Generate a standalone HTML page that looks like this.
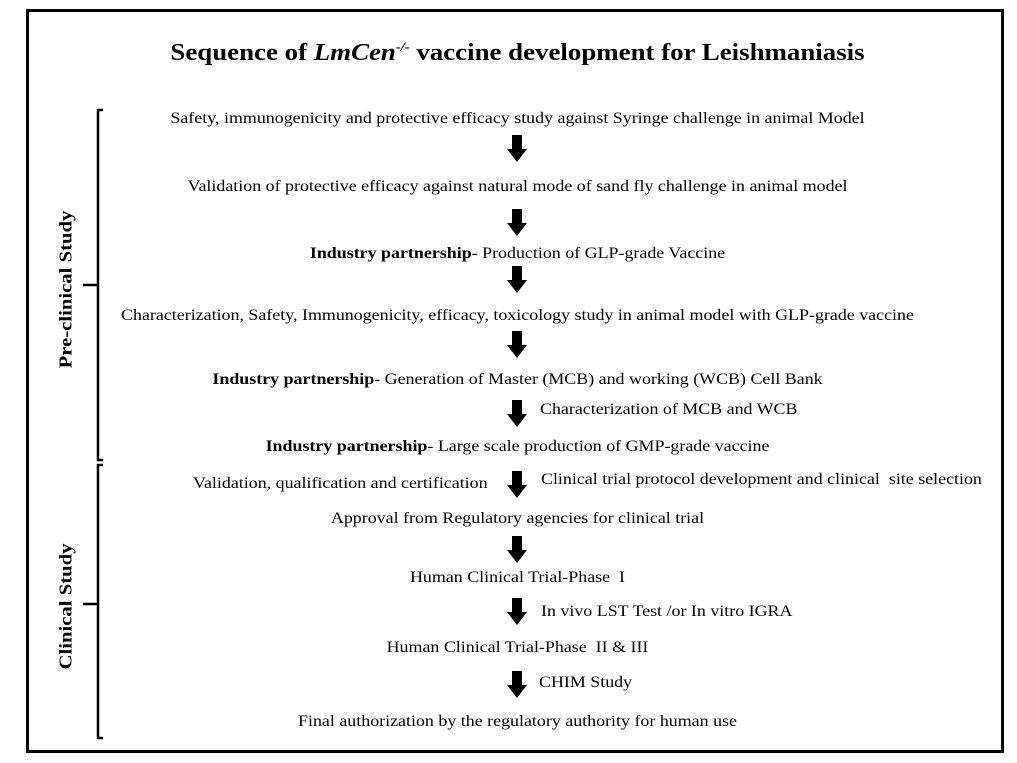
<!DOCTYPE html>
<html><head><style>
body{margin:0;background:#fff;}
#c{position:relative;width:1017px;height:763px;font-family:"Liberation Serif",serif;color:#000;overflow:hidden;}
.t{position:absolute;font-size:16px;line-height:20px;white-space:nowrap;transform:scaleX(1.12);transform-origin:left center;}
.ct{left:9px;width:1017px;text-align:center;transform-origin:center center;}
.v{position:absolute;font-size:18px;font-weight:bold;transform:rotate(-90deg) scaleX(1.15);transform-origin:center;white-space:nowrap;width:300px;text-align:center;}
</style></head><body><div id="c">
<div style="position:absolute;left:26px;top:9px;width:972px;height:738px;border:3px solid #000;"></div>
<div class="t ct" style="top:32px;font-size:24px;line-height:30px;font-weight:bold;">Sequence of <i>LmCen</i><sup style="font-size:13px;font-style:italic;">-/-</sup> vaccine development for Leishmaniasis</div>

<svg style="position:absolute;left:0;top:0" width="1017" height="763">
<g fill="none" stroke="#000" stroke-width="2.5">
<path d="M103 110 H98 V460 H103 M98 285 H83"/>
<path d="M103 465 H98 V738 H103 M98 604 H83"/>
</g>
<g fill="#000">
<polygon id="ar" points="512,135 522,135 522,149 527,149 517,162 507,149 512,149"/>
<use href="#ar" y="74"/><use href="#ar" y="131"/><use href="#ar" y="196"/><use href="#ar" y="265"/><use href="#ar" y="336"/><use href="#ar" y="401"/><use href="#ar" y="463"/><use href="#ar" y="536"/>
</g>
</svg>

<div class="v" style="left:-84px;top:279px;">Pre-clinical Study</div>
<div class="v" style="left:-84px;top:596px;">Clinical Study</div>

<div class="t ct" style="top:109px;">Safety, immunogenicity and protective efficacy study against Syringe challenge in animal Model</div>
<div class="t ct" style="top:177px;">Validation of protective efficacy against natural mode of sand fly challenge in animal model</div>
<div class="t ct" style="top:244px;"><b>Industry partnership</b>- Production of GLP-grade Vaccine</div>
<div class="t ct" style="top:306px;">Characterization, Safety, Immunogenicity, efficacy, toxicology study in animal model with GLP-grade vaccine</div>
<div class="t ct" style="top:370px;"><b>Industry partnership</b>- Generation of Master (MCB) and working (WCB) Cell Bank</div>
<div class="t" style="left:540px;top:400px;">Characterization of MCB and WCB</div>
<div class="t ct" style="top:437px;"><b>Industry partnership</b>- Large scale production of GMP-grade vaccine</div>
<div class="t" style="left:193px;top:474px;">Validation, qualification and certification</div>
<div class="t" style="left:541px;top:470px;">Clinical trial protocol development and clinical&nbsp; site selection</div>
<div class="t ct" style="top:509px;">Approval from Regulatory agencies for clinical trial</div>
<div class="t ct" style="top:568px;">Human Clinical Trial-Phase&nbsp; I</div>
<div class="t" style="left:541px;top:602px;">In vivo LST Test /or In vitro IGRA</div>
<div class="t ct" style="top:638px;">Human Clinical Trial-Phase&nbsp; II &amp; III</div>
<div class="t" style="left:539px;top:673px;">CHIM Study</div>
<div class="t ct" style="top:712px;">Final authorization by the regulatory authority for human use</div>
</div></body></html>
